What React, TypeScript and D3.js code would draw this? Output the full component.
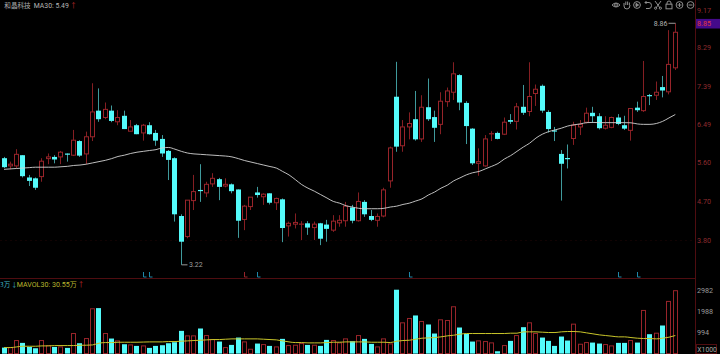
import React from "react";
import * as d3 from "d3";

const opens = [5.71,5.53,5.53,5.78,5.26,5.24,5.28,5.70,5.74,5.74,5.81,5.78,6.11,5.81,6.21,6.82,6.66,6.82,6.56,6.70,6.34,6.48,6.30,6.48,6.30,6.16,5.88,5.71,4.36,3.88,4.72,4.97,4.90,5.11,5.22,5.06,5.10,4.98,4.28,4.58,4.91,4.81,4.89,4.67,4.75,4.13,4.17,4.16,4.19,4.09,4.19,4.16,4.03,4.20,4.25,4.56,4.25,4.69,4.36,4.26,4.36,5.18,7.145,6.00,6.44,6.62,6.16,6.90,6.67,6.50,7.03,7.25,7.65,7.00,6.40,5.59,5.53,6.27,6.30,6.27,6.60,6.57,6.91,6.80,7.22,7.40,6.79,6.36,5.81,5.71,6.17,6.44,6.55,6.77,6.69,6.41,6.43,6.66,6.48,6.36,6.89,6.82,7.18,7.18,7.37,7.26,7.82];
const closes = [5.50,5.57,5.80,5.29,5.18,5.02,5.64,5.74,5.68,5.85,5.80,6.13,5.77,6.21,6.79,6.62,6.85,6.58,6.66,6.39,6.44,6.27,6.48,6.27,6.12,5.82,5.67,4.40,3.76,4.73,4.93,4.94,5.10,5.24,5.04,5.10,4.94,4.25,4.59,4.80,4.85,4.87,4.67,4.77,4.08,4.19,4.21,4.18,4.09,4.17,3.83,4.06,4.24,4.26,4.59,4.25,4.70,4.40,4.27,4.35,4.97,5.95,5.98,6.44,6.52,6.15,6.90,6.62,6.42,7.04,7.28,7.68,7.01,6.46,5.59,5.63,6.16,6.29,6.16,6.55,6.56,6.91,6.77,7.15,7.32,6.82,6.39,6.33,5.58,5.69,6.48,6.50,6.76,6.69,6.41,6.48,6.66,6.51,6.40,6.87,6.83,7.15,7.16,7.25,7.29,7.90,8.65];
const highs = [5.74,5.63,5.92,5.78,5.32,5.26,5.71,5.82,5.78,5.88,5.82,6.37,6.13,6.33,7.46,7.34,7.01,6.94,6.83,6.82,6.60,6.51,6.51,6.55,6.37,6.25,5.90,5.73,4.40,4.73,5.32,5.57,5.16,5.36,5.25,5.24,5.12,4.98,4.62,4.80,5.04,4.89,4.89,4.79,4.77,4.23,4.42,4.24,4.24,4.23,4.20,4.27,4.38,4.38,4.69,4.62,4.91,4.73,4.50,4.42,5.02,5.98,7.96,6.60,6.78,7.28,7.18,7.57,6.82,7.25,7.36,7.95,7.67,7.04,6.41,5.94,6.25,6.34,6.33,6.66,6.74,7.00,7.42,7.95,7.43,7.43,6.83,6.44,5.90,6.03,6.56,6.60,6.89,6.91,6.76,6.69,6.68,6.74,6.70,6.87,7.03,7.98,7.21,7.50,7.63,8.70,8.86];
const lows = [5.48,5.45,5.47,5.26,5.06,4.97,5.16,5.57,5.59,5.57,5.63,5.76,5.74,5.57,6.11,6.56,6.62,6.55,6.48,6.39,6.34,6.27,6.12,6.26,6.00,5.74,5.20,4.23,3.22,3.84,4.50,4.69,4.80,5.04,4.73,5.03,4.89,3.85,4.03,4.50,4.79,4.62,4.63,4.50,3.75,3.88,4.07,3.80,3.92,3.80,3.68,3.76,3.99,4.11,4.11,4.19,4.23,4.34,4.24,4.11,4.33,5.02,5.86,5.86,6.15,6.12,6.09,6.58,6.09,6.27,6.91,7.07,6.83,6.04,5.55,5.30,5.51,6.11,6.15,6.25,6.51,6.38,6.72,6.69,6.93,6.77,6.31,6.11,4.72,5.47,6.02,6.25,6.52,6.54,6.38,6.38,6.41,6.48,6.37,6.12,6.79,6.79,6.95,7.07,7.13,7.20,7.77];
const ma30 = [5.45,5.46,5.47,5.48,5.49,5.50,5.50,5.50,5.50,5.51,5.52,5.54,5.55,5.57,5.60,5.63,5.66,5.70,5.75,5.78,5.82,5.85,5.87,5.89,5.91,5.95,5.96,5.92,5.87,5.83,5.81,5.80,5.79,5.78,5.77,5.76,5.74,5.70,5.655,5.62,5.585,5.55,5.515,5.48,5.40,5.32,5.21,5.095,5.01,4.94,4.86,4.78,4.70,4.66,4.60,4.57,4.54,4.53,4.53,4.53,4.54,4.57,4.59,4.63,4.66,4.71,4.76,4.85,4.92,5.01,5.08,5.18,5.25,5.32,5.37,5.40,5.46,5.52,5.585,5.69,5.77,5.87,5.97,6.06,6.18,6.27,6.33,6.37,6.41,6.46,6.49,6.51,6.54,6.545,6.54,6.54,6.54,6.54,6.54,6.536,6.51,6.50,6.50,6.52,6.57,6.65,6.73];
const volumes = [285,285,619,508,317,254,619,381,317,317,270,952,492,714,2125,2157,952,714,603,444,412,365,365,270,365,397,492,539,1078,841,841,1190,856,666,571,285,412,761,555,206,476,428,365,317,698,381,397,476,412,397,365,650,619,508,698,587,856,698,460,317,698,460,3029,1459,1665,1808,1523,1380,952,1602,1570,2220,1237,936,571,603,571,508,111,381,603,856,1253,1459,952,761,603,365,809,619,1396,444,523,523,476,428,365,508,508,619,523,2046,920,967,1332,2474,2982];
const mavol = [285,285,317,349,349,349,365,365,381,381,381,381,397,397,412,492,523,523,539,539,539,539,547,555,555,555,571,571,587,603,619,634,650,666,666,682,698,698,698,698,698,682,666,650,603,555,523,523,508,508,508,523,539,539,555,555,555,555,539,539,539,523,587,619,634,682,730,745,761,793,841,872,920,952,952,952,952,952,952,952,967,967,1031,1031,1031,1015,999,999,1031,1047,1047,1031,983,936,888,856,825,793,793,761,730,714,714,698,730,777,856];

const priceTicks = ["9.17", "8.29", "7.39", "6.49", "5.60", "4.70", "3.80"];
const volumeTicks = ["2982", "1988", "994"];
const currentPrice = 8.85;
const highMark = { index: 106, value: 8.86, label: "8.86" };
const lowMark = { index: 28, value: 3.22, label: "3.22" };
const tradeMarks = [
  { index: 22, up: false }, { index: 23, up: false }, { index: 38, up: true }, { index: 40, up: false },
  { index: 64, up: false }, { index: 97, up: false }, { index: 100, up: false },
];

const TEAL = "#54fbfb";
const RED = "#98242a";
const RED_WICK = "#851e22";
const TEAL_WICK = "#3f9a9c";
const RULE = "#4f0d10";
const FONT = "Roboto, 'Noto Sans CJK SC', sans-serif";
const CJK = "'Noto Sans CJK SC', sans-serif";

const x = d3.scaleLinear().domain([0, 106]).range([4, 675.3]);
const y = d3.scaleLinear().domain([3.8, 9.17]).range([240, 10]);
const yVol = d3.scaleLinear().domain([0, 2982]).range([353.6, 290.7]);
const snap = (v: number) => Math.round(v - 0.5) + 0.5;
const BODY_W = 4;

const maLine = d3.line<number>().x((_, i) => x(i)).y((d) => y(d)).curve(d3.curveMonotoneX);
const volLine = d3.line<number>().x((_, i) => x(i)).y((d) => yVol(d)).curve(d3.curveMonotoneX);

function Toolbar() {
  const c = "#8d8d8d";
  const p = { fill: "none", stroke: c, strokeWidth: 1 };
  return (
    <g>
      <g transform="translate(616,5)" {...p}>
        <path d="M-4 0 Q0 -4 4 0 Q0 4 -4 0Z" /><circle r="1.4" />
      </g>
      <g transform="translate(627,5)" {...p}>
        <path d="M-3 1 L-3 -2 M-1.2 0 L-1.2 -3.5 M0.6 0 L0.6 -3.5 M2.4 0 L2.4 -2.5 M-3 1 Q-3 4 0 4 Q3 4 3 0" />
      </g>
      <g transform="translate(637,5)" {...p}>
        <circle r="3.4" /><path d="M-1 -1.6 L1.6 0 L-1 1.6Z" fill={c} />
      </g>
      <g transform="translate(648,5)" {...p}>
        <path d="M-3 -2.5 L1 -2.5 Q3.5 -2.5 3.5 0.5 Q3.5 3.5 1 3.5 L-2 3.5 M-3 -2.5 L-1.5 -4 M-3 -2.5 L-1.5 -1" />
      </g>
      <g transform="translate(658,5)" {...p}>
        <path d="M-3 -4 L2 3 M3 -4 L-2 3" /><circle cx="-2.4" cy="3.2" r="1.1" /><circle cx="2.4" cy="3.2" r="1.1" />
      </g>
      <g transform="translate(669,5)" {...p}>
        <rect x="-3" y="-0.8" width="6" height="4.6" /><path d="M-2 -0.8 L-2 -2 Q-2 -4 0 -4 Q2 -4 2 -2 L2 -0.8" />
      </g>
      <g transform="translate(679.5,5)" {...p}>
        <circle r="3.4" /><path d="M-2 0 L2 0 M0 -2 L0 2" />
      </g>
      <g transform="translate(690.5,5)" {...p}>
        <circle r="3.4" /><path d="M-2 0 L2 0" />
      </g>
    </g>
  );
}

export default function App() {
  return (
    <svg
      width={720}
      height={354}
      viewBox="0 0 720 354"
      style={{ position: "fixed", left: 0, top: 0, display: "block", background: "#000" }}
    >
      <rect width={720} height={354} fill="#000" />
      <line x1={0} x2={696} y1={y(3.8) + 0.5} y2={y(3.8) + 0.5} stroke="#120303" strokeDasharray="2 3" />
      <line x1={0} x2={696} y1={278.5} y2={278.5} stroke={RULE} />
      <line x1={695.5} x2={695.5} y1={0} y2={354} stroke={RULE} />

      {opens.map((o, i) => {
        const c = closes[i];
        const up = c >= o;
        const cx = snap(x(i));
        const top = y(Math.max(o, c));
        const bot = y(Math.min(o, c));
        const thin = bot - top < 1.6;
        return (
          <g key={i}>
            <line x1={cx} x2={cx} y1={y(highs[i])} y2={y(lows[i])} stroke={up ? RED_WICK : TEAL_WICK} />
            {thin ? (
              <line x1={cx - 2.5} x2={cx + 2.5} y1={(top + bot) / 2} y2={(top + bot) / 2} stroke={up ? RED : TEAL} strokeWidth={1.2} />
            ) : up ? (
              <rect x={cx - BODY_W / 2} y={top} width={BODY_W} height={bot - top} fill="#000" stroke={RED} />
            ) : (
              <rect x={cx - 2.5} y={top} width={5} height={bot - top} fill={TEAL} />
            )}
          </g>
        );
      })}

      <path d={maLine(ma30) ?? ""} fill="none" stroke="#d2d2d2" strokeWidth={0.9} />

      {/* high and low markers */}
      <path
        d={`M${snap(x(highMark.index))} ${y(highMark.value)} L${snap(x(highMark.index)) - 7} ${y(highMark.value)}`}
        stroke="#9a9a9a"
        fill="none"
      />
      <text x={667.5} y={y(highMark.value) + 2.5} textAnchor="end" fontSize={7} fontFamily={FONT} fill="#b0b0b0">
        {highMark.label}
      </text>
      <path
        d={`M${snap(x(lowMark.index))} ${y(lowMark.value)} L${snap(x(lowMark.index)) + 6} ${y(lowMark.value)}`}
        stroke="#9a9a9a"
        fill="none"
      />
      <text x={189} y={y(lowMark.value) + 2.5} fontSize={7} fontFamily={FONT} fill="#9f9f9f">
        {lowMark.label}
      </text>

      {tradeMarks.map((m) => {
        const cx = snap(x(m.index));
        return (
          <path key={m.index} d={`M${cx} 272 L${cx} 277 L${cx + 3} 277`} fill="none" stroke={m.up ? RED : "#1f87a8"} />
        );
      })}

      {volumes.map((v, i) => {
        const up = closes[i] >= opens[i];
        const cx = snap(x(i));
        return up ? (
          <rect key={i} x={cx - BODY_W / 2} y={yVol(v)} width={BODY_W} height={yVol(0) - yVol(v)} fill="#000" stroke={RED} />
        ) : (
          <rect key={i} x={cx - 2.5} y={yVol(v)} width={5} height={yVol(0) - yVol(v)} fill={TEAL} />
        );
      })}
      <path d={volLine(mavol) ?? ""} fill="none" stroke="#c9c52a" strokeWidth={1} />

      {/* legends */}
      <text x={4.3} y={7.5} fontSize={6.6} fontFamily={CJK} fill="#b0b0b0">和晶科技</text>
      <text x={33.7} y={7.5} fontSize={6.9} fontFamily={FONT} fill="#b5b5b5">MA30: 5.49</text>
      <text x={70} y={7.5} fontSize={6.9} fontFamily={FONT} fill="#c22a2a">↑</text>

      <text x={0} y={286.5} fontSize={6.6} fontFamily={CJK} fill="#3fb4c4">3万</text>
      <text x={11} y={286.5} fontSize={6.6} fontFamily={FONT} fill="#3fb4c4">↓</text>
      <text x={16.7} y={286.5} fontSize={7.1} fontFamily={FONT} fill="#b8b62e">MAVOL30: 30.55万</text>
      <text x={77.5} y={286.5} fontSize={7} fontFamily={FONT} fill="#c22a2a">↑</text>

      {/* price axis */}
      {priceTicks.map((t) => (
        <text key={t} x={697} y={y(+t) + 2.5} fontSize={7.2} fontFamily={FONT} fill="#8d2b2e">{t}</text>
      ))}
      <rect x={696} y={y(currentPrice) - 4.8} width={24} height={9.6} fill="#440a8a" />
      <text x={697} y={y(currentPrice) + 2.5} fontSize={7.2} fontFamily={FONT} fill="#e0383f">{currentPrice.toFixed(2)}</text>

      {/* volume axis */}
      {volumeTicks.map((t) => (
        <text key={t} x={697} y={yVol(+t) + 2.5} fontSize={7.2} fontFamily={FONT} fill="#9b9b9b">{t}</text>
      ))}
      <rect x={696.5} y={344.5} width={20} height={9} fill="none" stroke={RULE} />
      <text x={697.3} y={352} fontSize={6.8} fontFamily={FONT} fill="#a5a5a5">X1000</text>

      <Toolbar />
    </svg>
  );
}
